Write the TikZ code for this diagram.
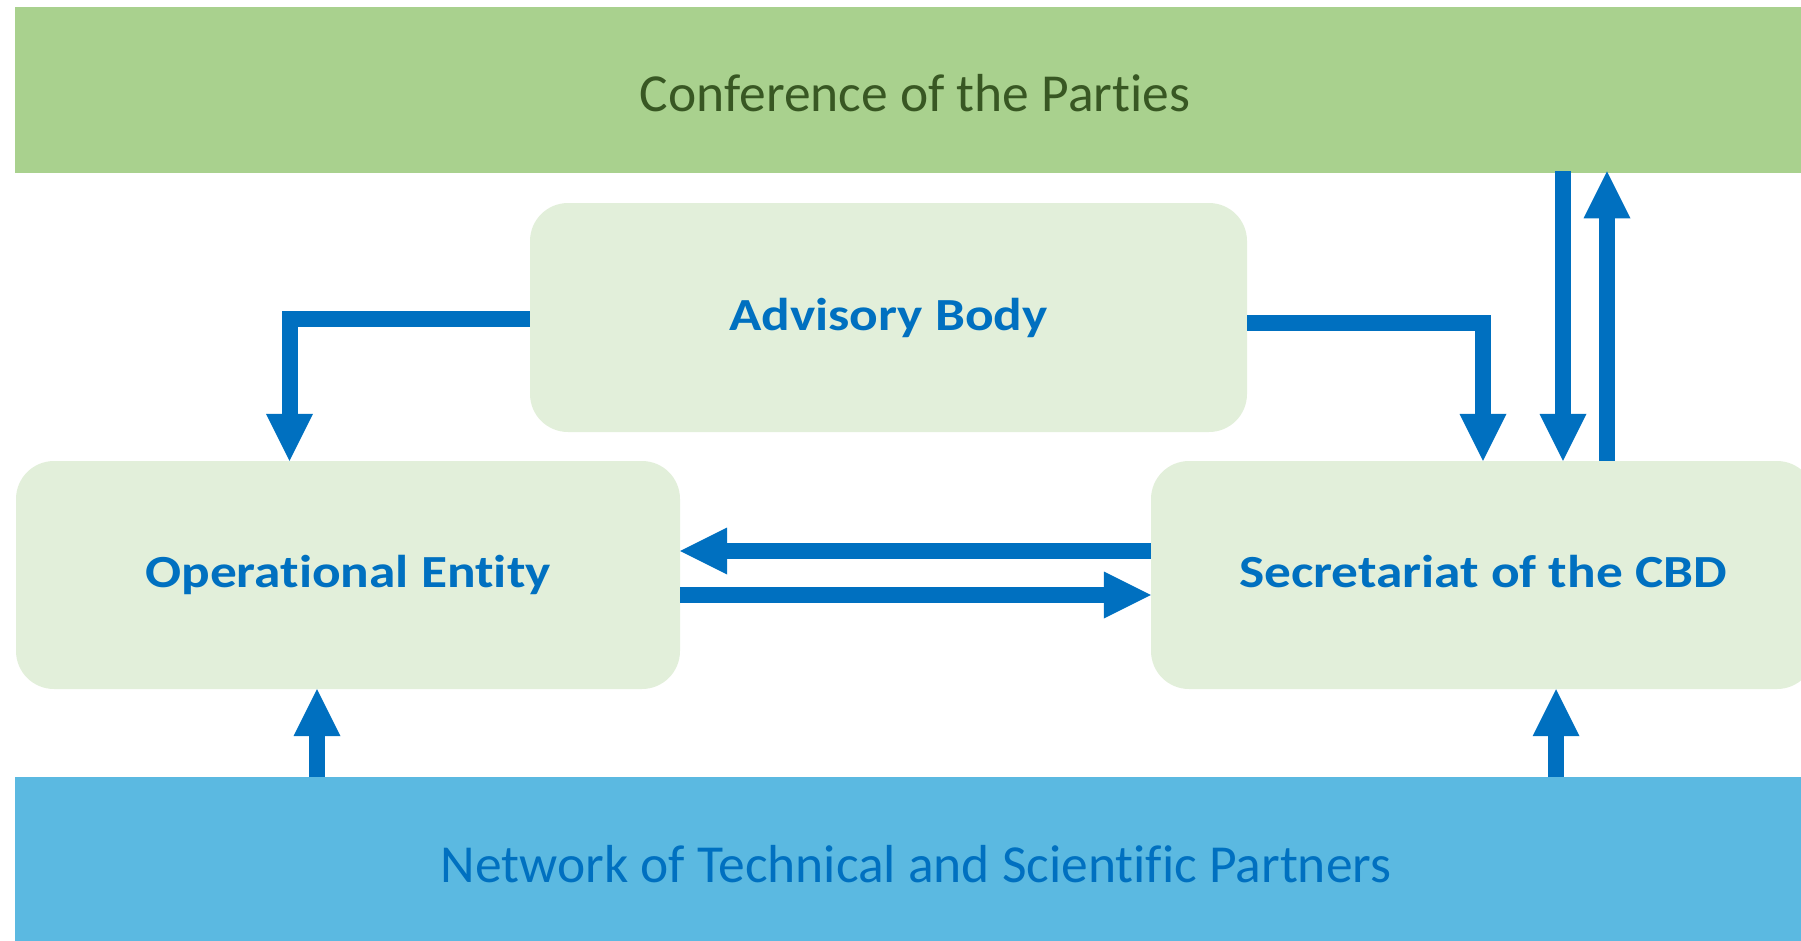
\documentclass[tikz,border=0pt]{standalone}
\usepackage{fontspec}
\setmainfont{Carlito}[Ligatures=NoCommon]
\newfontfamily\entityfont{Carlito}[Ligatures=NoCommon, FakeStretch=1.16]
\usetikzlibrary{arrows.meta,calc,positioning}
\definecolor{copgreen}{HTML}{A9D18E}
\definecolor{copdark}{HTML}{385723}
\definecolor{boxgreen}{HTML}{E2EFDA}
\definecolor{netblue}{HTML}{5BB9E1}
\definecolor{arrowblue}{HTML}{0070C0}
\tikzset{
  band/.style={rectangle, draw=none, inner sep=0pt, anchor=north west},
  bandtext/.style={font=\fontsize{53.5}{60}\selectfont, inner sep=0pt, anchor=base},
  entity/.style={rectangle, rounded corners=38pt, fill=boxgreen, draw=none,
    inner sep=0pt, text=arrowblue, text height=25pt, text depth=0pt,
    font=\entityfont\bfseries\fontsize{46}{52}\selectfont},
  flow/.style={draw=arrowblue, line width=16pt, line join=miter,
    -{Triangle[width=47pt,length=47pt,line width=0pt]}},
}
\begin{document}
\begin{tikzpicture}[x=1pt,y=-1pt]
\useasboundingbox (0,0) rectangle (1801,940);
\clip (0,0) rectangle (1801,940);
% bands
\node[band, fill=copgreen, minimum width=1800pt, minimum height=166pt] (cop) at (15,7) {};
\node[bandtext, text=copdark] (coptext) at (915,111) {Conference of the Parties};
\node[band, fill=netblue, minimum width=1800pt, minimum height=170pt] (net) at (15,777) {};
\node[bandtext, text=arrowblue] (nettext) at (916,882) {Network of Technical and Scientific Partners};
% boxes
\node[entity, minimum width=717pt, minimum height=229pt] (adv) at (888.5,317.5) {Advisory Body};
\node[entity, minimum width=664pt, minimum height=228pt] (op) at (348,575) {Operational Entity};
\node[entity, minimum width=664pt, minimum height=228pt] (sec) at (1483,575) {Secretariat of the CBD};
% helper coordinates
\coordinate (a1) at ($(adv.west)+(0,1)$);
\coordinate (o1) at ($(op.north)+(-58.5,0)$);
\coordinate (a2) at ($(adv.east)+(0,5.5)$);
\coordinate (s1) at ($(sec.north)+(80,0)$);
\coordinate (s2) at ($(sec.north)+(124,0)$);
\coordinate (s3) at ($(sec.west)+(0,-24)$);
\coordinate (o3) at ($(op.east)+(0,-24)$);
\coordinate (o4) at ($(op.east)+(0,20)$);
\coordinate (s4) at ($(sec.west)+(0,20)$);
\coordinate (o5) at ($(op.south)+(-31,0)$);
\coordinate (s5) at ($(sec.south)+(73,0)$);
% connectors
\draw[flow] (a1) -| (o1);
\draw[flow] (a2) -| (sec.north);
\draw[flow] ($(s1 |- cop.south)+(0,-2)$) -- (s1);
\draw[flow] (s2) -- ($(s2 |- cop.south)+(0,-2)$);
\draw[flow] (s3) -- (o3);
\draw[flow] (o4) -- (s4);
\draw[flow] (o5 |- net.north) -- (o5);
\draw[flow] (s5 |- net.north) -- (s5);
\end{tikzpicture}
\end{document}
